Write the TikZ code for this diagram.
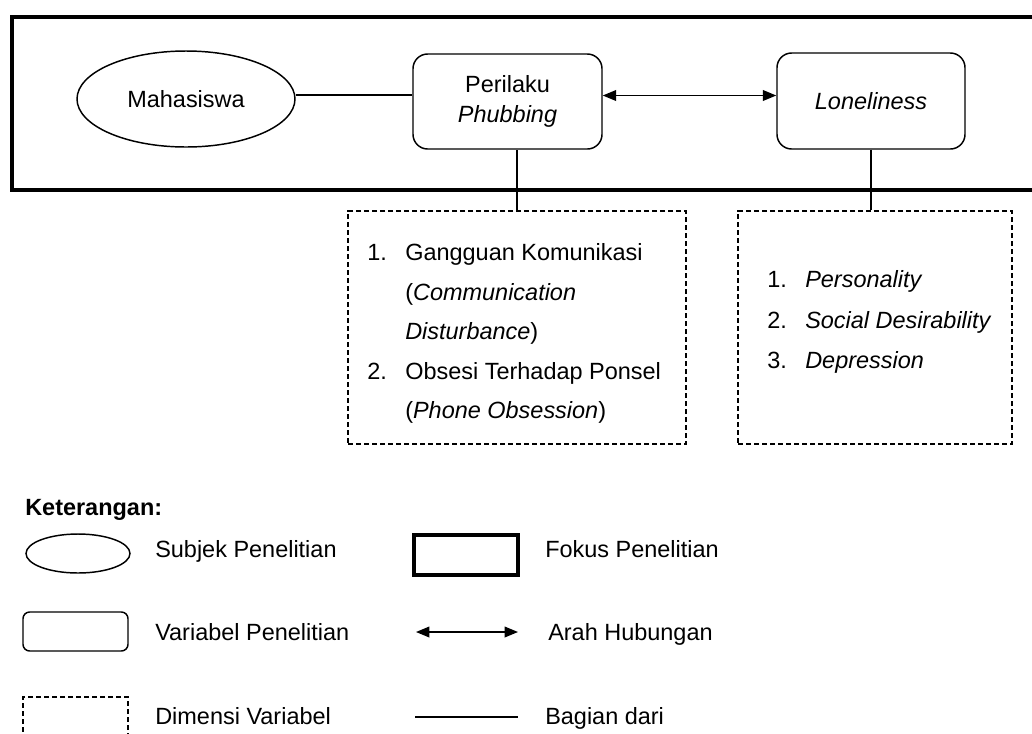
\documentclass[tikz,border=0pt]{standalone}
\usepackage{fontspec}
\setmainfont{Liberation Sans}
\usetikzlibrary{arrows.meta,shapes.geometric}
\begin{document}
\begin{tikzpicture}[x=0.75pt,y=-0.75pt,
  font=\fontsize{17.6}{22.5}\selectfont,
  subjek/.style={ellipse, draw, line width=1.1pt, inner sep=0pt},
  variabel/.style={draw, rounded corners=11pt, line width=1.1pt, align=center, inner sep=0pt},
  dimensi/.style={draw, dash pattern=on 4pt off 2pt, line width=1.1pt, inner sep=0pt},
  fokus/.style={draw, line width=3pt},
  rel/.style={line width=1.1pt, {Triangle[length=10pt,width=8pt]}-{Triangle[length=10pt,width=8pt]}},
  part/.style={line width=1.1pt},
  txt/.style={anchor=base west, inner sep=0pt},
]
\useasboundingbox (0,0) rectangle (1032,733);
\clip (0,0) rectangle (1032,733);
\fill[white] (0,0) rectangle (1032,733);

% focus frame (right side runs off the picture)
\draw[fokus] (1060,16.5) -- (12,16.5) -- (12,190) -- (1060,190);

% main nodes
\node[subjek, minimum width=163.5pt, minimum height=72pt] (mhs) at (186,99) {Mahasiswa};
\node[variabel, minimum width=141.75pt, minimum height=71.25pt] (per) at (507.5,101.5) {Perilaku\\\textit{Phubbing}};
\node[variabel, minimum width=141pt, minimum height=72pt] (lon) at (871,101) {\textit{Loneliness}};

\node[dimensi, minimum width=253.5pt, minimum height=174.75pt] (d1) at (517,327.5) {};
\node[dimensi, minimum width=205.5pt, minimum height=174.75pt] (d2) at (875,327.5) {};

% connectors
\draw[part] ([yshift=3pt]mhs.east) -- ([yshift=3pt]mhs.east -| per.west);
\draw[rel] ([yshift=4.5pt]per.east) -- ([yshift=4.5pt]per.east -| lon.west);
\draw[part] (d1.north) -- (d1.north |- per.south);
\draw[part] (lon.south) -- (lon.south |- d2.north);

% list in box 1
\node[txt] (n11) at (367,260.5) {1.};
\node[txt] (t11) at (405,260.5) {Gangguan Komunikasi};
\node[txt] (t12) at (405,300) {(\textit{Communication}};
\node[txt] (t13) at (405,339.5) {\textit{Disturbance})};
\node[txt] (n12) at (367,379) {2.};
\node[txt] (t14) at (405,379) {Obsesi Terhadap Ponsel};
\node[txt] (t15) at (405,418.5) {(\textit{Phone Obsession})};

% list in box 2
\node[txt] (n21) at (767,287.5) {1.};
\node[txt] (t21) at (805,287.5) {\textit{Personality}};
\node[txt] (n22) at (767,328) {2.};
\node[txt] (t22) at (805,328) {\textit{Social Desirability}};
\node[txt] (n23) at (767,368.5) {3.};
\node[txt] (t23) at (805,368.5) {\textit{Depression}};

% legend
\node[txt, font=\fontsize{17.6}{22.5}\selectfont\bfseries] (ket) at (25,515.5) {Keterangan:};

\node[subjek, minimum width=78pt, minimum height=29.25pt] (lg1) at (78,553.5) {};
\node[txt] (lt1) at (155,557) {Subjek Penelitian};

\node[variabel, rounded corners=5pt, minimum width=78.75pt, minimum height=29.25pt] (lg2) at (75.5,631.5) {};
\node[txt] (lt2) at (155,640.5) {Variabel Penelitian};

\node[dimensi, minimum width=78.75pt, minimum height=30pt] (lg3) at (75.5,717) {};
\node[txt] (lt3) at (155,724) {Dimensi Variabel};

\node[fokus, inner sep=0pt, minimum width=78pt, minimum height=30pt] (lg4) at (466,555) {};
\node[txt] (lt4) at (545,557) {Fokus Penelitian};

\coordinate (a1) at (416,632);
\coordinate (a2) at (518,632);
\draw[rel] (a1) -- (a2);
\node[txt] (lt5) at (548,640.5) {Arah Hubungan};

\coordinate (b1) at (415,717);
\coordinate (b2) at (518,717);
\draw[part] (b1) -- (b2);
\node[txt] (lt6) at (545,724) {Bagian dari};
\end{tikzpicture}
\end{document}
